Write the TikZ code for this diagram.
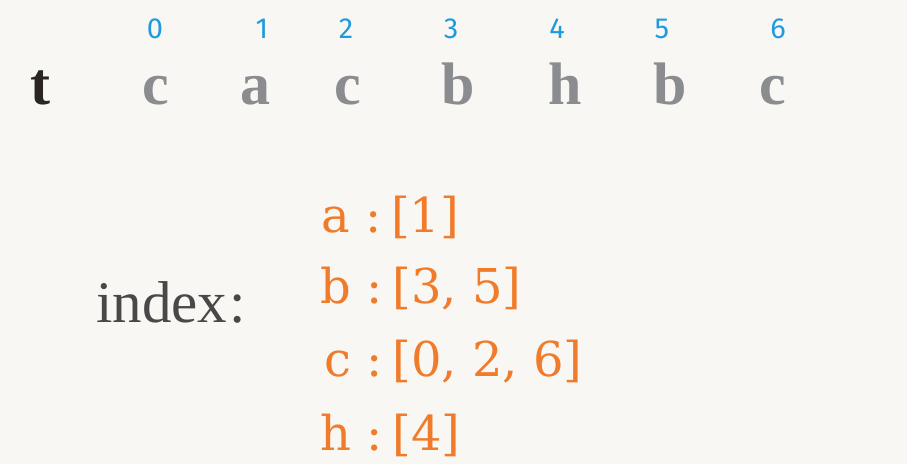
\documentclass[tikz,border=0pt]{standalone}
\usepackage{fontspec}
\setmainfont{Liberation Serif}
\newfontfamily\digitfont{Fira Sans}
\newfontfamily\entfont{DejaVu Serif}
\definecolor{bgc}{HTML}{F8F7F3}
\definecolor{grayl}{HTML}{8A8C8F}
\definecolor{darkt}{HTML}{2A2523}
\definecolor{idxc}{HTML}{4A4748}
\definecolor{orng}{HTML}{F07B2B}
\definecolor{bluen}{HTML}{1E9BE0}
\tikzset{
  letter/.style={anchor=base, inner sep=0pt, text=grayl, font=\fontsize{60}{60}\selectfont\bfseries},
  num/.style={anchor=base, inner sep=0pt, text=bluen, font=\fontsize{29}{29}\digitfont},
  entry/.style={anchor=base west, inner sep=0pt, text=orng, font=\fontsize{48}{48}\entfont},
}
\newcommand{\gapB}{\hspace{10pt}}
\begin{document}
\begin{tikzpicture}[x=1pt,y=-1pt]
\fill[bgc] (0,0) rectangle (907,464);
\useasboundingbox (0,0) rectangle (907,464);
\node[letter, text=darkt] (t) at (40,104) {t};
\node[letter] (l0) at (156,104) {c};
\node[letter] (l1) at (255,104) {a};
\node[letter] (l2) at (348,104) {c};
\node[letter] (l3) at (458,104) {b};
\node[letter] (l4) at (565,104) {h};
\node[letter] (l5) at (670,104) {b};
\node[letter] (l6) at (773,104) {c};
\node[num] (n0) at (155,38) {0};
\node[num] (n1) at (262,38) {1};
\node[num] (n2) at (346,38) {2};
\node[num] (n3) at (451,38) {3};
\node[num] (n4) at (557,38) {4};
\node[num] (n5) at (662,38) {5};
\node[num] (n6) at (778,38) {6};
\node[anchor=base west, inner sep=0pt, text=idxc, font=\fontsize{59}{59}\selectfont] (idx) at (96,322) {index\kern2pt:};
\node[entry] (ea) at (321,232) {a :\gapB[1]};
\node[entry] (eb) at (320,303) {b :\gapB[3, 5]};
\node[entry] (ec) at (324,376) {c :\gapB[0, 2, 6]};
\node[entry] (eh) at (320,450) {h :\gapB[4]};
\end{tikzpicture}
\end{document}
